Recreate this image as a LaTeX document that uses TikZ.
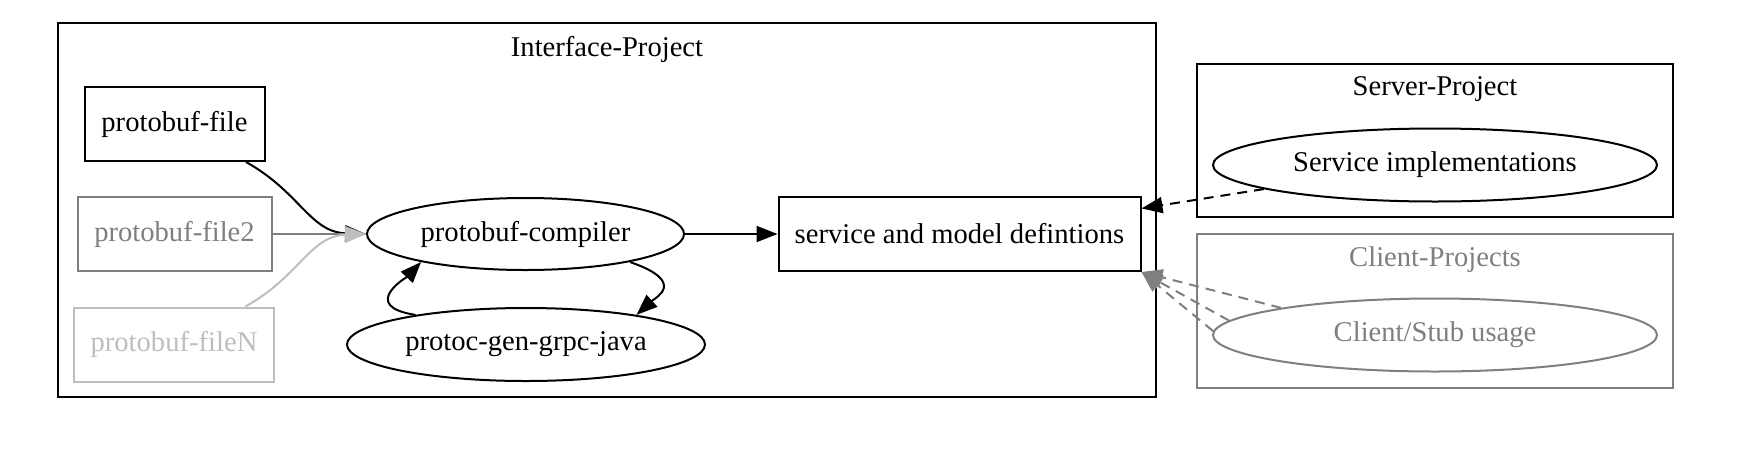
\documentclass[tikz,border=0pt]{standalone}
\usepackage{fontspec}
\setmainfont{Liberation Serif}
\usetikzlibrary{arrows.meta,shapes.geometric,calc}
\definecolor{midgray}{HTML}{7F7F7F}
\definecolor{palegray}{HTML}{BEBEBE}

\begin{document}
\begin{tikzpicture}[x=0.5pt,y=-0.5pt,line width=1pt,
    every node/.style={font=\fontsize{14.3pt}{16pt}\selectfont},
    filebox/.style={shape=rectangle,draw,inner sep=0pt,minimum height=37pt},
    oval/.style={shape=ellipse,draw,inner sep=0pt,minimum height=36.5pt},
    tip/.style={-{Triangle[length=10.5pt,width=8pt]}},
    dashline/.style={tip,dash pattern=on 5pt off 3.5pt}]
    \useasboundingbox (0,0) rectangle (1756,456);

    % clusters
    \draw (58,23) rectangle (1156,397);
    \node (ititle) at (607,49.5) {Interface-Project};
    \draw (1197,64) rectangle (1673,217);
    \node (stitle) at (1435,89.5) {Server-Project};
    \draw[midgray] (1197,234) rectangle (1673,388);
    \node[text=midgray] (ctitle) at (1435,259.5) {Client-Projects};

    % nodes
    \node[filebox,minimum width=90pt] (file1) at (174.5,124) {protobuf-file};
    \node[filebox,minimum width=97pt,draw=midgray,text=midgray] (file2) at (174.5,234) {protobuf-file2};
    \node[filebox,minimum width=100pt,draw=palegray,text=palegray] (fileN) at (174,344.5) {protobuf-fileN};
    \node[oval,minimum width=158.5pt,minimum height=36pt] (compiler) at (525.5,234) {protobuf-compiler};
    \node[oval,minimum width=179pt] (grpc) at (526,344.5) {protoc-gen-grpc-java};
    \node[filebox,minimum width=181pt] (defs) at (959.5,234) {service and model defintions};
    \node[oval,minimum width=222pt] (impl) at (1435,165) {Service implementations};
    \node[oval,minimum width=222pt,draw=midgray,text=midgray] (stub) at (1435,335) {Client/Stub usage};

    % edges
    \draw[tip] (file1.-28) .. controls (300,192) and (310,232) .. (compiler.west);
    \draw[tip,midgray] (file2.east) -- (compiler.west);
    \draw[tip,palegray] (fileN.28) .. controls (300,276) and (310,236) .. (compiler.west);
    \draw[tip] (compiler.east) -- (defs.west);
    \draw[tip] (compiler.-15) .. controls (688,282) and (655,298) .. (grpc.15);
    \draw[tip] (grpc.165) .. controls (358,306) and (408,276) .. (compiler.195);
    \draw[dashline] (impl.188) -- (defs.8.7);
    \draw[dashline,midgray] (stub.170) -- (defs.south east);
    \draw[dashline,midgray] (stub.176) -- (defs.south east);
    \draw[dashline,midgray] (stub.179) -- (defs.south east);
\end{tikzpicture}
\end{document}
